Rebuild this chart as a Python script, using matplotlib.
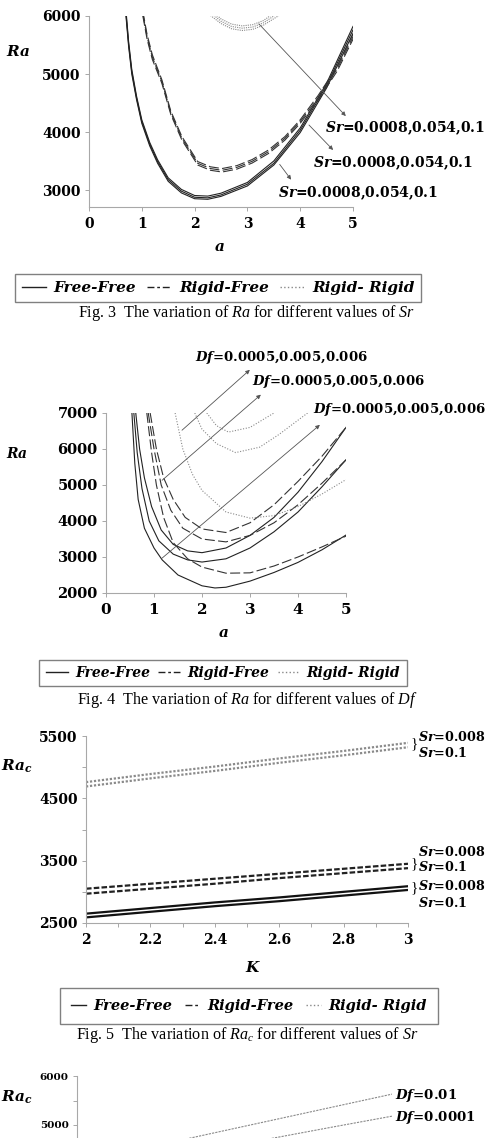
import matplotlib
matplotlib.use("Agg")
import matplotlib.pyplot as plt
from matplotlib.lines import Line2D
from matplotlib.ticker import MultipleLocator

plt.rcParams["font.family"] = "DejaVu Serif"
plt.rcParams["font.weight"] = "bold"
plt.rcParams["mathtext.fontset"] = "custom"
plt.rcParams["mathtext.rm"] = "Liberation Serif:normal"
plt.rcParams["mathtext.it"] = "Liberation Serif:italic:normal"
plt.rcParams["mathtext.bf"] = "DejaVu Serif:bold"
plt.rcParams["mathtext.bfit"] = "DejaVu Serif:italic:bold"

# ---- Fig. 3 : Ra vs a, three Sr values (0.0008, 0.054, 0.1) per boundary case
ff3_a = [0.70, 0.75, 0.81, 0.90, 1.00, 1.15, 1.30, 1.50, 1.75, 2.00, 2.25, 2.50, 3.00, 3.50, 4.00, 4.50, 5.00]
ff3 = [
    [6000, 5480, 5000, 4560, 4150, 3760, 3460, 3150, 2950, 2850, 2840, 2890, 3070, 3430, 3990, 4760, 5700],
    [6050, 5520, 5040, 4590, 4180, 3790, 3490, 3180, 2980, 2875, 2865, 2915, 3100, 3460, 4030, 4800, 5760],
    [6100, 5560, 5080, 4620, 4210, 3820, 3520, 3210, 3010, 2905, 2895, 2945, 3130, 3500, 4070, 4840, 5820],
]
rf3_a = [1.02, 1.10, 1.20, 1.38, 1.55, 1.76, 2.06, 2.30, 2.52, 2.80, 3.09, 3.40, 3.71, 4.00, 4.34, 4.70, 5.00]
rf3 = [
    [6000, 5600, 5250, 4840, 4300, 3860, 3430, 3340, 3310, 3360, 3465, 3630, 3860, 4150, 4550, 5050, 5600],
    [6040, 5640, 5290, 4870, 4330, 3890, 3460, 3370, 3340, 3390, 3495, 3660, 3890, 4180, 4590, 5090, 5640],
    [6080, 5680, 5330, 4900, 4360, 3920, 3490, 3400, 3370, 3420, 3525, 3690, 3920, 4210, 4630, 5130, 5680],
]
rr3_a = [2.30, 2.50, 2.70, 2.90, 3.10, 3.30, 3.60]
rr3 = [
    [6010, 5870, 5780, 5750, 5770, 5840, 6010],
    [6060, 5910, 5820, 5790, 5810, 5880, 6060],
    [6110, 5950, 5860, 5830, 5850, 5920, 6110],
]
sr3_label = "=0.0008,0.054,0.1"

# ---- Fig. 4 : Ra vs a, three Df values (0.0005, 0.005, 0.006) per boundary case
ff4 = [
    ([0.54, 0.60, 0.67, 0.80, 1.00, 1.17, 1.50, 2.00, 2.27, 2.50, 3.00, 3.50, 4.00, 4.50, 5.00],
     [7000, 5600, 4600, 3800, 3250, 2920, 2500, 2200, 2140, 2160, 2330, 2570, 2850, 3200, 3610]),
    ([0.58, 0.65, 0.75, 0.90, 1.10, 1.40, 1.70, 2.00, 2.50, 3.00, 3.50, 4.00, 4.50, 5.00],
     [7000, 5900, 4900, 4000, 3450, 3080, 2920, 2860, 2950, 3250, 3700, 4250, 4950, 5700]),
    ([0.62, 0.70, 0.80, 0.95, 1.15, 1.40, 1.70, 2.00, 2.50, 3.00, 3.50, 4.00, 4.50, 5.00],
     [7000, 6000, 5200, 4400, 3750, 3350, 3170, 3120, 3250, 3600, 4100, 4800, 5650, 6600]),
]
rf4 = [
    ([0.85, 0.95, 1.05, 1.20, 1.40, 1.70, 2.00, 2.50, 3.00, 3.50, 4.00, 4.50, 5.00],
     [7000, 5900, 5000, 4100, 3400, 2950, 2720, 2550, 2560, 2750, 3000, 3280, 3580]),
    ([0.88, 1.00, 1.15, 1.35, 1.60, 2.00, 2.50, 3.00, 3.50, 4.00, 4.50, 5.00],
     [7000, 6000, 5000, 4300, 3800, 3500, 3420, 3600, 3950, 4450, 5050, 5700]),
    ([0.92, 1.05, 1.20, 1.40, 1.65, 2.00, 2.50, 3.00, 3.50, 4.00, 4.50, 5.00],
     [7000, 6000, 5200, 4600, 4100, 3780, 3680, 3950, 4450, 5100, 5800, 6600]),
]
rr4 = [
    ([1.44, 1.60, 1.80, 2.00, 2.50, 3.00, 3.50, 4.00, 4.50, 5.00],
     [7000, 6000, 5300, 4850, 4250, 4080, 4150, 4400, 4750, 5150]),
    ([1.85, 2.00, 2.30, 2.70, 3.20, 3.60, 4.20],
     [7000, 6550, 6150, 5900, 6050, 6400, 7000]),
    ([2.10, 2.30, 2.55, 3.00, 3.50],
     [7000, 6650, 6470, 6600, 7000]),
]
df4_label = "=0.0005,0.005,0.006"

# ---- Fig. 5 : Ra_c vs K, Sr = 0.008 and 0.1
k5 = [2.0, 2.2, 2.4, 2.6, 2.8, 3.0]
ff5_sr008 = [2650, 2740, 2830, 2910, 3000, 3090]
ff5_sr01 = [2590, 2680, 2770, 2850, 2940, 3030]
rf5_sr008 = [3050, 3130, 3210, 3290, 3370, 3450]
rf5_sr01 = [2970, 3050, 3130, 3220, 3300, 3380]
rr5_sr008 = [4760, 4890, 5010, 5140, 5260, 5390]
rr5_sr01 = [4690, 4820, 4940, 5070, 5190, 5320]

# ---- Fig. 6 (cut off at the bottom) : Ra_c vs K, Df = 0.01 and 0.0001
k6 = [2.0, 2.2, 2.4, 2.6, 2.8, 3.0]
rr6_df001 = [4230, 4510, 4790, 5070, 5350, 5630]
rr6_df00001 = [3985, 4225, 4465, 4705, 4945, 5180]

W, H = 494, 1138
fig = plt.figure(figsize=(W / 100, H / 100), dpi=100)


def box(x0, y0, x1, y1):
    return [x0 / W, 1 - y1 / H, (x1 - x0) / W, (y1 - y0) / H]


def at(x, y):
    return x / W, 1 - y / H


def style(ax, size):
    for s in ("top", "right"):
        ax.spines[s].set_visible(False)
    for s in ("left", "bottom"):
        ax.spines[s].set_color("#a8a8a8")
        ax.spines[s].set_linewidth(0.8)
    ax.tick_params(which="both", direction="out", length=3, width=0.7,
                   color="#a8a8a8", labelsize=size)
    ax.tick_params(axis="y", pad=3)
    ax.tick_params(axis="x", pad=4)
    ax.patch.set_alpha(0)


def legend(xc, yc, hl, size=10, colsp=0.6, bpad=0.5):
    hs = [Line2D([], [], color="#222222", lw=1.0, ls="-"),
          Line2D([], [], color="#222222", lw=1.0, ls=(0, (5, 2, 2, 2))),
          Line2D([], [], color="#888888", lw=1.0, ls=":")]
    leg = fig.legend(hs, ["Free-Free", "Rigid-Free", "Rigid- Rigid"],
                     loc="center", bbox_to_anchor=at(xc, yc), ncol=3,
                     frameon=True, fancybox=False, edgecolor="#808080",
                     framealpha=1, handlelength=hl, handletextpad=0.5,
                     columnspacing=colsp, borderpad=bpad, borderaxespad=0,
                     prop=dict(family="DejaVu Serif", style="italic",
                               weight="bold", size=size))
    leg.get_frame().set_linewidth(1.0)
    return leg


def caption(xc, yc, txt):
    fig.text(*at(xc, yc), txt, ha="center", va="center",
             family="Liberation Serif", weight="normal", size=11.6)


arrow = dict(arrowstyle="-|>", color="#555555", lw=0.6, mutation_scale=6)

# Fig. 3
ax3 = fig.add_axes(box(89, 16, 353, 207))
for ys in ff3:
    ax3.plot(ff3_a, ys, color="#222222", lw=0.8)
for ys in rf3:
    ax3.plot(rf3_a, ys, color="#333333", lw=0.8, ls=(0, (9, 3)))
for ys in rr3:
    ax3.plot(rr3_a, ys, color="#8a8a8a", lw=0.8, ls=(0, (1, 1)))
ax3.set_xlim(0, 5)
ax3.set_ylim(2707, 6000)
ax3.set_xticks(range(6))
ax3.set_yticks([3000, 4000, 5000, 6000])
style(ax3, 10)
ax3.annotate("", xy=(4.90, 4240), xytext=(3.18, 5900), arrowprops=arrow, annotation_clip=False)
ax3.annotate("", xy=(4.66, 3655), xytext=(4.13, 4155), arrowprops=arrow, annotation_clip=False)
ax3.annotate("", xy=(3.86, 3140), xytext=(3.58, 3480), arrowprops=arrow, annotation_clip=False)
for x, y in [(325, 128), (313, 163), (278, 193)]:
    fig.text(*at(x, y), r"$\mathbfit{Sr}$" + sr3_label, ha="left", va="center", size=10)
fig.text(*at(18, 52), r"$\mathbfit{Ra}$", ha="center", va="center", size=11)
fig.text(*at(219, 247), r"$\mathbfit{a}$", ha="center", va="center", size=11)
legend(218, 288, 1.6, size=11, colsp=0.7, bpad=0.45)
caption(247, 313, r"Fig. 3  The variation of $\mathit{Ra}$ for different values of $\mathit{Sr}$")

# Fig. 4
ax4 = fig.add_axes(box(106, 413, 346, 593))
for xs, ys in ff4:
    ax4.plot(xs, ys, color="#222222", lw=0.8)
for xs, ys in rf4:
    ax4.plot(xs, ys, color="#333333", lw=0.8, ls=(0, (9, 3)))
for xs, ys in rr4:
    ax4.plot(xs, ys, color="#8a8a8a", lw=0.8, ls=(0, (1, 1.5)))
ax4.set_xlim(0, 5)
ax4.set_ylim(2000, 7000)
ax4.set_xticks(range(6))
ax4.set_yticks(range(2000, 7001, 1000))
style(ax4, 10.5)
ax4.tick_params(axis="x", labelsize=11)
ax4.annotate("", xy=(3.04, 8250), xytext=(1.54, 6470), arrowprops=arrow, annotation_clip=False)
ax4.annotate("", xy=(3.27, 7560), xytext=(1.125, 5080), arrowprops=arrow, annotation_clip=False)
ax4.annotate("", xy=(4.50, 6720), xytext=(1.125, 2920), arrowprops=arrow, annotation_clip=False)
for x, y in [(195, 357), (252, 381), (313, 410)]:
    fig.text(*at(x, y), r"$\mathbfit{Df}$" + df4_label, ha="left", va="center", size=9.5)
fig.text(*at(17, 453), r"$\mathbfit{Ra}$", ha="center", va="center", size=10)
fig.text(*at(223, 633), r"$\mathbfit{a}$", ha="center", va="center", size=11)
legend(223, 673, 1.6, size=10, colsp=0.6, bpad=0.45)
caption(247, 700, r"Fig. 4  The variation of $\mathit{Ra}$ for different values of $\mathit{Df}$")

# Fig. 5
ax5 = fig.add_axes(box(86, 736, 408, 923))
for ys in (ff5_sr008, ff5_sr01):
    ax5.plot(k5, ys, color="#111111", lw=1.6)
for ys in (rf5_sr008, rf5_sr01):
    ax5.plot(k5, ys, color="#222222", lw=1.6, ls=(0, (2.5, 1)))
for ys in (rr5_sr008, rr5_sr01):
    ax5.plot(k5, ys, color="#8a8a8a", lw=1.6, ls=(0, (1, 0.8)))
ax5.set_xlim(2, 3)
ax5.set_ylim(2500, 5500)
ax5.set_xticks(k5)
ax5.set_xticklabels(["2", "2.2", "2.4", "2.6", "2.8", "3"])
ax5.xaxis.set_minor_locator(MultipleLocator(0.1))
ax5.set_yticks([2500, 3500, 4500, 5500])
ax5.yaxis.set_minor_locator(MultipleLocator(500))
style(ax5, 10)
sr = r"$\mathbfit{Sr}$"
for x, y, t in [(411, 744, "}"), (411, 864, "}"), (411, 888, "}")]:
    fig.text(*at(x, y), t, ha="left", va="center", size=11, weight="normal",
             family="Liberation Serif")
for x, y, v in [(418, 737, "0.008"), (418, 753, "0.1"), (418, 852, "0.008"),
                (418, 867, "0.1"), (418, 886, "0.008"), (418, 903, "0.1")]:
    fig.text(*at(x, y), sr + "=" + v, ha="left", va="center", size=9.2)
fig.text(*at(17, 766), r"$\mathbfit{Ra}_{\mathbfit{c}}$", ha="center", va="center", size=11)
fig.text(*at(253, 967), r"$\mathbfit{K}$", ha="center", va="center", size=11)
legend(249, 1006, 1.0, size=10.5, colsp=0.9, bpad=0.75)
caption(247, 1035, r"Fig. 5  The variation of $\mathit{Ra}_{c}$ for different values of $\mathit{Sr}$")

# Fig. 6 (only the top part is visible)
ax6 = fig.add_axes(box(77, 1076, 392, 1272))
ax6.plot(k6, rr6_df001, color="#8a8a8a", lw=0.8, ls=(0, (2, 1)))
ax6.plot(k6, rr6_df00001, color="#8a8a8a", lw=0.8, ls=(0, (2, 1)))
ax6.set_xlim(2, 3)
ax6.set_ylim(2000, 6000)
ax6.set_yticks([5000, 6000])
ax6.set_xticks([])
ax6.yaxis.set_minor_locator(MultipleLocator(500))
style(ax6, 7.5)
fig.text(*at(395, 1095), r"$\mathbfit{Df}$=0.01", ha="left", va="center", size=9.6)
fig.text(*at(395, 1117), r"$\mathbfit{Df}$=0.0001", ha="left", va="center", size=9.6)
fig.text(*at(17, 1097), r"$\mathbfit{Ra}_{\mathbfit{c}}$", ha="center", va="center", size=11)

fig.savefig("out.png", dpi=100)
